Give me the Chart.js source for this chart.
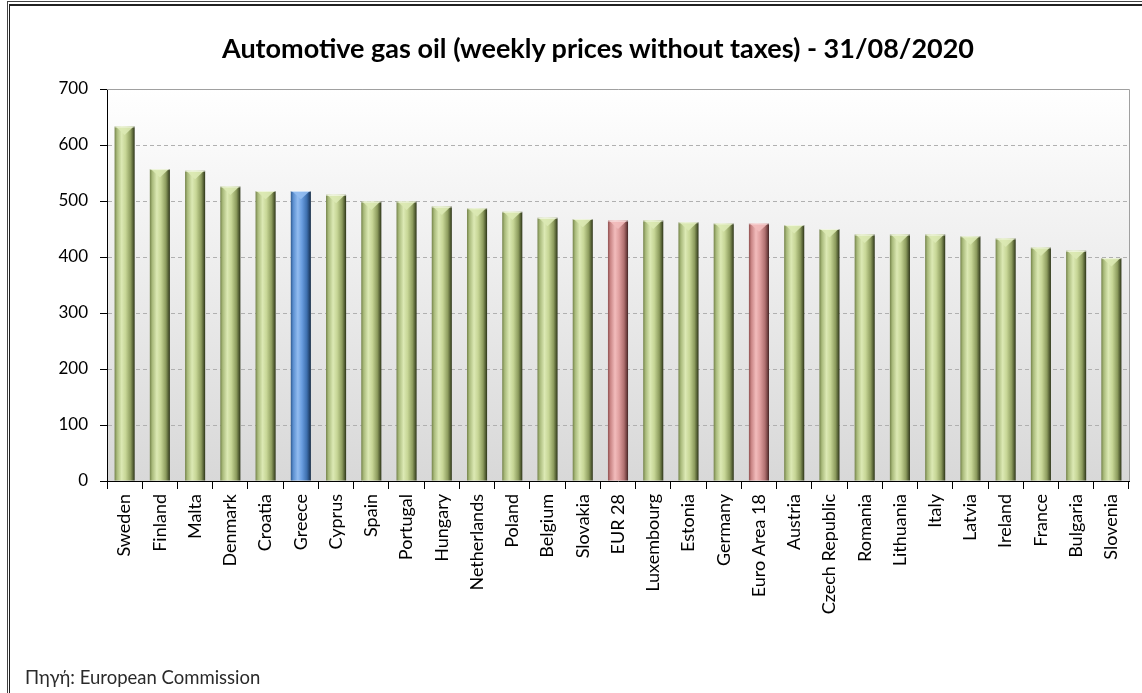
<!DOCTYPE html>
<html>
<head>
<meta charset="utf-8">
<script src="https://cdn.jsdelivr.net/npm/chart.js@4/dist/chart.umd.min.js"></script>
<style>
  html, body { margin: 0; padding: 0; background: #fff; }
  #wrap { position: relative; width: 1142px; height: 693px; overflow: hidden; }
  #frameOuter { position: absolute; left: 7px; top: 1px; width: 2000px; height: 2000px; border-left: 1px solid #444; border-top: 1px solid #444; }
  #frameInner { position: absolute; left: 9px; top: 4px; width: 2000px; height: 2000px; border-left: 1px solid #222; border-top: 2px solid #222; }
  #title { position: absolute; left: 0; width: 1196px; top: 31px; text-align: center; font: bold 27px/34px Lato, sans-serif; color: #000; white-space: nowrap; }
  #source { position: absolute; left: 25px; top: 666px; font: 18.5px Lato, sans-serif; color: #2a2a2a; }
  canvas { position: absolute; left: 0; top: 0; }
</style>
</head>
<body>
<div id="wrap">
  <div id="frameOuter"></div>
  <div id="frameInner"></div>
  <canvas id="gasOilChart" width="1142" height="693"></canvas>
  <div id="title"></div>
  <div id="source">Πηγή: European Commission</div>
</div>
<script>
// categories and weekly prices (EUR/1000 l, without taxes)
const countries = [
  "Sweden", "Finland", "Malta", "Denmark", "Croatia", "Greece", "Cyprus",
  "Spain", "Portugal", "Hungary", "Netherlands", "Poland", "Belgium",
  "Slovakia", "EUR 28", "Luxembourg", "Estonia", "Germany", "Euro Area 18",
  "Austria", "Czech Republic", "Romania", "Lithuania", "Italy", "Latvia",
  "Ireland", "France", "Bulgaria", "Slovenia"
];
const prices = [
  633, 557, 554, 526, 518, 518, 511,
  499, 499, 490, 487, 481, 470,
  468, 465, 465, 462, 460, 460,
  457, 450, 440, 440, 440, 437,
  433, 417, 411, 398
];
const yTicks = [0, 100, 200, 300, 400, 500, 600, 700];
const titleText = "Automotive gas oil (weekly prices without taxes) - 31/08/2020";

document.getElementById("title").textContent = titleText;

const BAR_PCT = 0.57;

// cylinder-like colour stops (left -> right)
const palettes = {
  green: ["#74834a", "#a9ba7b", "#dce9b4", "#c7d696", "#8d9c5e", "#505b31", "#2c3318"],
  blue: ["#2f5a8f", "#5b8fd0", "#92bcf0", "#6a9ee0", "#3d6fae", "#23446e", "#132840"],
  red: ["#8f5050", "#c98585", "#f2bcbc", "#e0a0a0", "#b07070", "#704040", "#402424"]
};
const stopsAt = [0, 0.12, 0.35, 0.55, 0.8, 0.93, 1];

function paletteFor(i) {
  const name = countries[i];
  if (name === "Greece") return palettes.blue;
  if (name === "EUR 28" || name === "Euro Area 18") return palettes.red;
  return palettes.green;
}

function barFill(context) {
  const chart = context.chart;
  const pal = paletteFor(context.dataIndex);
  const xs = chart.scales.x;
  if (!xs || !chart.chartArea) return pal[2];
  const cx = xs.getPixelForValue(context.dataIndex);
  const w = (xs.width / countries.length) * BAR_PCT;
  const g = chart.ctx.createLinearGradient(cx - w / 2, 0, cx + w / 2, 0);
  stopsAt.forEach((s, k) => g.addColorStop(s, pal[k]));
  return g;
}

// plot area background: white at top to light grey at bottom
const plotBackground = {
  id: "plotBackground",
  beforeDraw(chart) {
    const { ctx, chartArea: a } = chart;
    const g = ctx.createLinearGradient(0, a.top, 0, a.bottom);
    g.addColorStop(0, "#ffffff");
    g.addColorStop(1, "#d8d8d8");
    ctx.save();
    ctx.fillStyle = g;
    ctx.fillRect(a.left, a.top, a.right - a.left, a.bottom - a.top);
    ctx.restore();
  },
  beforeDatasetsDraw(chart) {
    const { ctx, chartArea: a } = chart;
    ctx.save();
    ctx.strokeStyle = "#a0a0a0";
    ctx.lineWidth = 1;
    ctx.beginPath();
    ctx.moveTo(a.left, a.top + 0.5);
    ctx.lineTo(a.right + 0.5, a.top + 0.5);
    ctx.lineTo(a.right + 0.5, a.bottom);
    ctx.stroke();
    ctx.restore();
  }
};

// light bevel triangle on the top of each bar
const barBevel = {
  id: "barBevel",
  afterDatasetsDraw(chart) {
    const { ctx } = chart;
    const meta = chart.getDatasetMeta(0);
    ctx.save();
    meta.data.forEach((bar, i) => {
      const w = bar.width;
      const pal = paletteFor(i);
      ctx.fillStyle = pal[2];
      ctx.globalAlpha = 0.9;
      ctx.beginPath();
      ctx.moveTo(bar.x - w / 2 + 1, bar.y);
      ctx.lineTo(bar.x + w / 2 - 1, bar.y);
      ctx.lineTo(bar.x, bar.y + w * 0.42);
      ctx.closePath();
      ctx.fill();
      ctx.globalAlpha = 1;
      ctx.strokeStyle = "rgba(255,255,255,0.6)";
      ctx.beginPath();
      ctx.moveTo(bar.x - w / 2, bar.y + 0.5);
      ctx.lineTo(bar.x + w / 2, bar.y + 0.5);
      ctx.stroke();
    });
    ctx.restore();
  }
};

const ctx = document.getElementById("gasOilChart").getContext("2d");
new Chart(ctx, {
  type: "bar",
  data: {
    labels: countries,
    datasets: [
      {
        data: prices,
        backgroundColor: barFill,
        borderWidth: 0,
        categoryPercentage: 1,
        barPercentage: BAR_PCT
      }
    ]
  },
  options: {
    responsive: false,
    animation: false,
    devicePixelRatio: 1,
    layout: {
      padding: { left: 0, right: 13, top: 89, bottom: 0 }
    },
    plugins: {
      legend: { display: false },
      tooltip: { enabled: false },
      title: { display: false }
    },
    scales: {
      x: {
        afterFit: (scale) => { scale.height = 212; },
        grid: {
          offset: true,
          drawOnChartArea: false,
          drawTicks: true,
          tickLength: 8,
          tickColor: "#000"
        },
        border: { display: true, color: "#000", width: 1 },
        ticks: {
          autoSkip: false,
          maxRotation: 90,
          minRotation: 90,
          padding: 5,
          color: "#000",
          font: { family: "Lato", size: 18 }
        }
      },
      y: {
        min: 0,
        max: 700,
        afterFit: (scale) => { scale.width = 107; },
        afterBuildTicks: (scale) => { scale.ticks = yTicks.map((v) => ({ value: v })); },
        grid: {
          color: "#b0b0b0",
          lineWidth: 1,
          tickLength: 7,
          tickColor: "#000",
          tickBorderDash: []
        },
        border: { display: true, color: "#000", width: 1, dash: [4, 3] },
        ticks: {
          padding: 12,
          color: "#000",
          font: { family: "Lato", size: 17 }
        }
      }
    }
  },
  plugins: [plotBackground, barBevel]
});
</script>
</body>
</html>
